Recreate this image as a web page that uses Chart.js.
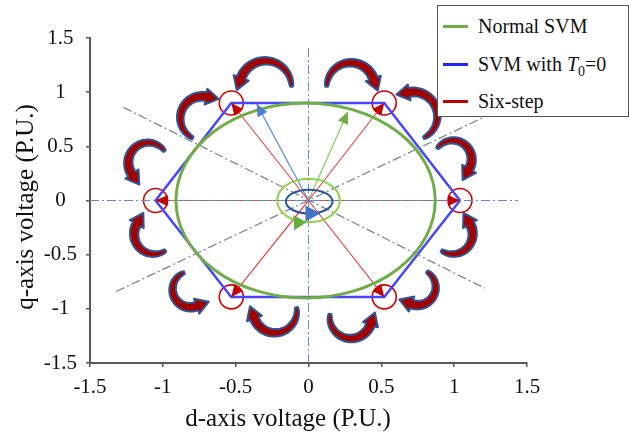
<!DOCTYPE html>
<html>
<head>
<meta charset="utf-8">
<script src="https://cdn.jsdelivr.net/npm/chart.js@4.4.1/dist/chart.umd.min.js"></script>
<style>
  body { margin: 0; background: #fff; }
  #wrap { position: relative; width: 629px; height: 435px; }
  #legend { position: absolute; left: 437px; top: 5px; width: 190px; height: 110px;
            border: 1.5px solid #555; background: #fff;
            font-family: "Times New Roman", "Liberation Serif", serif; font-size: 20px; color: #111; }
  .item { position: absolute; left: 0; width: 100%; height: 30px; }
  .swatch { position: absolute; left: 5px; top: 14px; width: 25px; height: 3px; }
  .label { position: absolute; left: 40px; top: 0; line-height: 30px; white-space: nowrap; }
  sub { font-size: 14px; line-height: 0; }
</style>
</head>
<body>
<div id="wrap">
  <canvas id="chartCanvas" width="629" height="435"></canvas>
  <div id="legend"></div>
</div>
<script>
// axis ticks
const xTicks = [-1.5, -1, -0.5, 0, 0.5, 1, 1.5];
const yTicks = [-1.5, -1, -0.5, 0, 0.5, 1, 1.5];

// legend
const legendLabels = ['Normal SVM', 'SVM with <i>T</i><sub>0</sub>=0', 'Six-step'];
const legendColors = ['#70ad47', '#2626ff', '#c00000'];

// SVM with T0=0 hexagon (six-step vectors sit on its corners)
const hexX = [1.04, 0.52, -0.53, -1.05, -0.53, 0.52];
const hexY = [0, 0.9, 0.9, 0, -0.89, -0.89];

// ellipses: normal SVM circle, small green and blue loci near origin
const ellCx = [-0.02, 0, 0.005];
const ellCy = [0, 0, -0.01];
const ellRx = [0.89, 0.215, 0.16];
const ellRy = [0.9, 0.2, 0.11];

// reference vectors from origin
const blueVec = [-0.355, 0.89];
const greenVec = [0.27, 0.82];

// little triangles on the small loci (tip points)
const spinTipX = [0.082, -0.012];
const spinTipY = [-0.12, -0.2];

// dash-dot sector lines
const diagX = [[-1.27, 1.21], [-1.32, 1.3]];
const diagY = [[0.86, -0.81], [-0.84, 0.83]];
const dAxisX = [-1.5, 1.44];
const qAxisY = [-1.5, 1.42];

// curved transition arrows (centre, radius in d units, start/end angle in deg)
const arrowX = [-0.295, -0.73, 0.29, 0.72, 0.99, -1.1, 0.99, -1.06, -0.81, -0.23, 0.29, 0.75];
const arrowY = [1.05, 0.76, 1.05, 0.78, 0.38, 0.35, -0.31, -0.31, -0.82, -1.02, -1.08, -0.8];
const arrowR = [0.178, 0.15, 0.165, 0.165, 0.13, 0.137, 0.137, 0.137, 0.123, 0.15, 0.144, 0.123];
const arrowFrom = [0, 115, -180, 65, -145, 325, 125, 55, 250, -10, 190, -60];
const arrowTo = [-160, 280, -20, -100, 30, 145, -30, 210, 70, 160, 20, 110];

const serif = '"Times New Roman", "Liberation Serif", serif';

document.getElementById('legend').innerHTML = legendLabels.map((l, i) => `
  <div class="item" style="top:${[5, 43, 80][i]}px">
    <div class="swatch" style="background:${legendColors[i]}"></div>
    <div class="label">${l}</div>
  </div>`).join('');

const pts = (xs, ys) => xs.map((x, i) => ({ x: x, y: ys[i] }));
const lineSet = (data, color, width, dash) => ({
    data: data, showLine: true, borderColor: color, borderWidth: width,
    borderDash: dash || [], pointRadius: 0, fill: false, tension: 0
});
const dashDot = [9, 3, 2, 3];

const datasets = [
    lineSet([{ x: dAxisX[0], y: 0 }, { x: dAxisX[1], y: 0 }], '#5b8be0', 1, dashDot),
    lineSet([{ x: 0, y: qAxisY[0] }, { x: 0, y: qAxisY[1] }], '#5b8be0', 1, dashDot),
    lineSet(pts(diagX[0], diagY[0]), '#7d879b', 1.3, dashDot),
    lineSet(pts(diagX[1], diagY[1]), '#7d879b', 1.3, dashDot),
    lineSet(pts(hexX.concat(hexX[0]), hexY.concat(hexY[0])), '#4646ff', 2.5)
];
hexX.forEach((x, i) => {
    datasets.push(lineSet([{ x: 0, y: 0 }, { x: x, y: hexY[i] }], '#e2474a', 1.2));
});
datasets.push(lineSet([{ x: 0, y: 0 }, { x: blueVec[0], y: blueVec[1] }], '#6592d8', 1.3));
datasets.push(lineSet([{ x: 0, y: 0 }, { x: greenVec[0], y: greenVec[1] }], '#8ecc68', 1.3));
datasets.push({
    data: pts(hexX, hexY), showLine: false, pointRadius: 12, pointHoverRadius: 12,
    pointBorderColor: '#d40000', pointBackgroundColor: 'rgba(0,0,0,0)', pointBorderWidth: 1.6
});

function head(ctx, tx, ty, ang, len, hw, color) {
    ctx.save();
    ctx.translate(tx, ty);
    ctx.rotate(ang);
    ctx.beginPath();
    ctx.moveTo(0, 0);
    ctx.lineTo(-len, hw);
    ctx.lineTo(-len, -hw);
    ctx.closePath();
    ctx.fillStyle = color;
    ctx.fill();
    ctx.restore();
}

function curvedArrow(ctx, cx, cy, r, a0, a1) {
    const n = 40;
    const dir = Math.sign(a1 - a0);
    const outer = [], inner = [];
    for (let i = 0; i <= n; i++) {
        const t = i / n;
        const a = (a0 + (a1 - a0) * t) * Math.PI / 180;
        const w = 1.3 + 3.2 * Math.sqrt(t);
        outer.push([cx + (r + w) * Math.cos(a), cy + (r + w) * Math.sin(a)]);
        inner.push([cx + (r - w) * Math.cos(a), cy + (r - w) * Math.sin(a)]);
    }
    const ae = a1 * Math.PI / 180;
    const nx = Math.cos(ae), ny = Math.sin(ae);
    const ex = cx + r * nx, ey = cy + r * ny;
    const tx = -ny * dir, ty = nx * dir;
    const hw = 8, hl = 13;
    ctx.beginPath();
    ctx.moveTo(outer[0][0], outer[0][1]);
    outer.forEach(p => ctx.lineTo(p[0], p[1]));
    ctx.lineTo(cx + (r + hw) * nx, cy + (r + hw) * ny);
    ctx.lineTo(ex + tx * hl, ey + ty * hl);
    ctx.lineTo(cx + (r - hw) * nx, cy + (r - hw) * ny);
    for (let i = n; i >= 0; i--) ctx.lineTo(inner[i][0], inner[i][1]);
    ctx.closePath();
    ctx.fillStyle = '#a30000';
    ctx.fill();
    ctx.lineJoin = 'round';
    ctx.lineWidth = 2;
    ctx.strokeStyle = '#2f5597';
    ctx.stroke();
}

const decorPlugin = {
    id: 'decor',
    afterDatasetsDraw(chart) {
        const ctx = chart.ctx;
        const xs = chart.scales.x, ys = chart.scales.y;
        const px = v => xs.getPixelForValue(v), py = v => ys.getPixelForValue(v);
        const ux = px(1) - px(0), uy = py(0) - py(1);
        ctx.save();

        // ellipses
        const ellColors = ['#70ad47', '#92d050', '#2f5597'];
        const ellWidths = [3, 2, 2];
        ellCx.forEach((cx, i) => {
            ctx.beginPath();
            ctx.ellipse(px(cx), py(ellCy[i]), ellRx[i] * ux, ellRy[i] * uy, 0, 0, Math.PI * 2);
            ctx.strokeStyle = ellColors[i];
            ctx.lineWidth = ellWidths[i];
            ctx.stroke();
        });

        // arrowheads of six-step vectors at the hexagon corners
        hexX.forEach((x, i) => {
            const tx = px(x), ty = py(hexY[i]);
            head(ctx, tx, ty, Math.atan2(ty - py(0), tx - px(0)), 12, 5.5, '#c00000');
        });
        let tx = px(blueVec[0]), ty = py(blueVec[1]);
        head(ctx, tx, ty, Math.atan2(ty - py(0), tx - px(0)), 12, 5.5, '#4a7fd0');
        tx = px(greenVec[0]); ty = py(greenVec[1]);
        head(ctx, tx, ty, Math.atan2(ty - py(0), tx - px(0)), 12, 5.5, '#70ad47');

        // rotation markers on the small loci
        head(ctx, px(spinTipX[0]), py(spinTipY[0]), 0, 15, 8, '#4472c4');
        head(ctx, px(spinTipX[1]), py(spinTipY[1]), -0.04, 13, 7.5, '#6aad3d');

        // curved transition arrows
        arrowX.forEach((x, i) => {
            curvedArrow(ctx, px(x), py(arrowY[i]), arrowR[i] * ux, arrowFrom[i], arrowTo[i]);
        });

        // axis titles
        ctx.fillStyle = '#111';
        ctx.font = '25px ' + serif;
        ctx.textAlign = 'center';
        ctx.textBaseline = 'middle';
        ctx.fillText('d-axis voltage (P.U.)', 288, 419);
        ctx.translate(26, 207);
        ctx.rotate(-Math.PI / 2);
        ctx.fillText('q-axis voltage (P.U.)', 0, 0);
        ctx.restore();
    }
};

const tickFont = { family: serif, size: 21 };
const axisGrid = { drawOnChartArea: false, drawTicks: true, tickLength: 4, color: '#595959', lineWidth: 1.5 };
const axisBorder = { display: true, color: '#595959', width: 2 };

new Chart(document.getElementById('chartCanvas').getContext('2d'), {
    type: 'scatter',
    data: { datasets: datasets },
    options: {
        responsive: false,
        animation: false,
        layout: { padding: { top: 38, right: 102, left: 0, bottom: 0 } },
        plugins: { legend: { display: false }, tooltip: { enabled: false } },
        scales: {
            x: {
                type: 'linear', min: -1.5, max: 1.5,
                afterBuildTicks: s => { s.ticks = xTicks.map(v => ({ value: v })); },
                afterFit: s => { s.height = 72; },
                grid: axisGrid, border: axisBorder,
                ticks: { font: tickFont, color: '#111', padding: 8, maxRotation: 0, callback: v => String(v) }
            },
            y: {
                type: 'linear', min: -1.5, max: 1.5,
                afterBuildTicks: s => { s.ticks = yTicks.map(v => ({ value: v })); },
                afterFit: s => { s.width = 90; },
                grid: axisGrid, border: axisBorder,
                ticks: { font: tickFont, color: '#111', padding: 9, crossAlign: 'center', callback: v => String(v) }
            }
        }
    },
    plugins: [decorPlugin]
});
</script>
</body>
</html>
